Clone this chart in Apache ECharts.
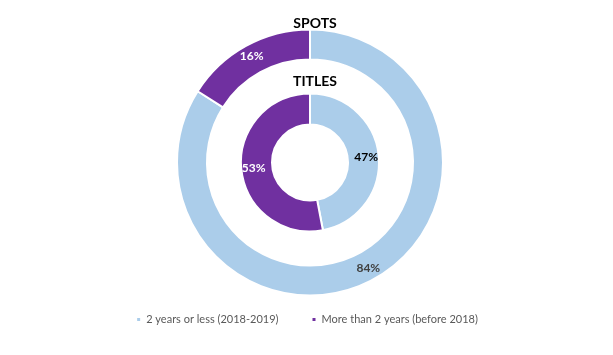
<!DOCTYPE html>
<html><head><meta charset="utf-8">
<script src="https://cdn.jsdelivr.net/npm/echarts@6/dist/echarts.min.js"></script>
<style>html,body{margin:0;padding:0;background:#fff}#c{width:613px;height:355px}</style>
</head><body><div id="c"></div>
<script>
const categories = ['2 years or less (2018-2019)', 'More than 2 years (before 2018)'];
const spotsValues = [84, 16];
const titlesValues = [47, 53];
const colors = ['#ABCDEA', '#7030A0'];
const outerLabelColors = ['#404040', '#FFFFFF'];
const innerLabelColors = ['#000000', '#FFFFFF'];
const font = 'Lato';

function mk(values, labelColors) {
  return categories.map((n, i) => ({
    name: n, value: values[i],
    itemStyle: { color: colors[i] },
    label: { color: labelColors[i] }
  }));
}
const chart = echarts.init(document.getElementById('c'));
chart.setOption({
  animation: false,
  title: [
    { text: 'SPOTS', left: 310, top: 11, textAlign: 'center',
      textStyle: { fontFamily: font, fontWeight: 'bold', fontSize: 14, color: '#000' } },
    { text: 'TITLES', left: 310, top: 69, textAlign: 'center',
      textStyle: { fontFamily: font, fontWeight: 'bold', fontSize: 14, color: '#000' } }
  ],
  legend: {
    bottom: 25, left: 'center', icon: 'rect', itemWidth: 5, itemHeight: 5, itemGap: 32,
    textStyle: { fontFamily: font, fontSize: 11, color: '#595959' },
    data: categories
  },
  series: [
    { type: 'pie', center: [310, 162.5], radius: [103, 133], startAngle: 90, clockwise: true,
      itemStyle: { borderColor: '#fff', borderWidth: 2 },
      label: { position: 'inside', formatter: '{c}%', fontFamily: font, fontSize: 12, fontWeight: 'bold' },
      labelLine: { show: false }, emphasis: { disabled: true },
      data: mk(spotsValues, outerLabelColors) },
    { type: 'pie', center: [310, 162.5], radius: [38, 69], startAngle: 90, clockwise: true,
      itemStyle: { borderColor: '#fff', borderWidth: 2 },
      label: { position: 'inside', formatter: '{c}%', fontFamily: font, fontSize: 12, fontWeight: 'bold' },
      labelLine: { show: false }, emphasis: { disabled: true },
      data: mk(titlesValues, innerLabelColors) }
  ]
});
</script></body></html>
